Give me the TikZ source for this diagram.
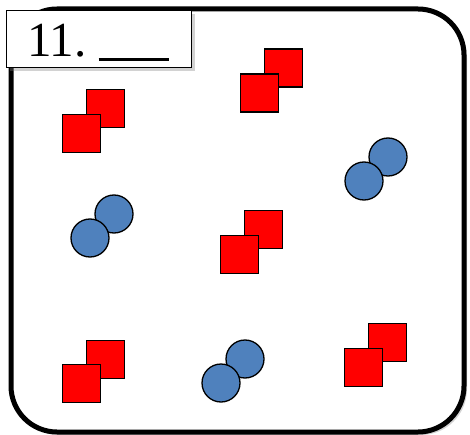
\documentclass[tikz,border=0pt]{standalone}
\usepackage{fontspec}
\setmainfont{Liberation Serif}
\usetikzlibrary{shadows}
\definecolor{dotblue}{HTML}{4F81BD}
\tikzset{
  sq/.style={draw=black,line width=1.3pt,fill=red,minimum size=38pt,inner sep=0pt},
  dot/.style={circle,draw=black,line width=1.3pt,fill=dotblue,minimum size=38pt,inner sep=0pt},
  shade/.style={drop shadow={shadow xshift=3pt,shadow yshift=-3pt,opacity=0.35}}
}
\begin{document}
\begin{tikzpicture}[x=1pt,y=-1pt]
\useasboundingbox (0,0) rectangle (470,435);
% frame
\draw[line width=5pt,rounded corners=46pt,fill=white,shade] (11,9) rectangle (464,432);
% label
\node[draw,fill=white,line width=1.2pt,minimum width=185pt,minimum height=57pt,anchor=north west,shade] (lbl) at (6,10) {};
\node[anchor=base west,inner sep=0pt,font=\fontsize{49}{49}\selectfont] (num) at (27,57) {11.\hspace{12pt}\rule[-4pt]{70pt}{3pt}};
% squares
\node[sq] (s1b) at (105.5,108.5) {};
\node[sq] (s1f) at (81.5,133.5) {};
\node[sq] (s2b) at (283.5,68) {};
\node[sq] (s2f) at (259.5,93) {};
\node[sq] (s3b) at (263.5,229.5) {};
\node[sq] (s3f) at (239.5,254.5) {};
\node[sq] (s4b) at (105.5,359.5) {};
\node[sq] (s4f) at (81.5,383.5) {};
\node[sq] (s5b) at (387.5,342.5) {};
\node[sq] (s5f) at (363.5,367.5) {};
% circles
\node[dot] (c1b) at (388,157) {};
\node[dot] (c1f) at (364,181) {};
\node[dot] (c2b) at (114,214) {};
\node[dot] (c2f) at (90,238) {};
\node[dot] (c3b) at (245,359) {};
\node[dot] (c3f) at (221,383) {};
\end{tikzpicture}
\end{document}
